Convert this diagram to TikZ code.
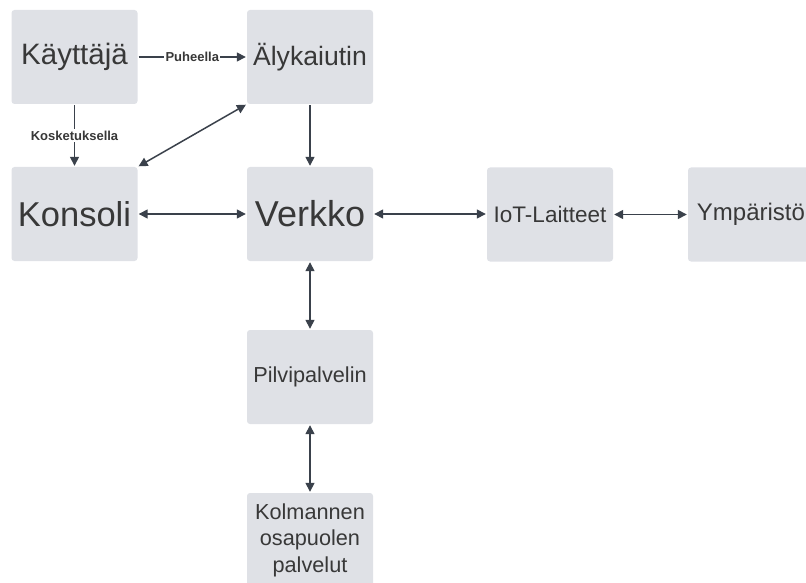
\documentclass[tikz,border=0pt]{standalone}
\usepackage{fontspec}
\setmainfont{Liberation Sans}
\usetikzlibrary{arrows.meta}
\definecolor{boxgray}{HTML}{DFE1E6}
\definecolor{txtgray}{HTML}{383838}
\definecolor{linegray}{HTML}{3A414B}
\tikzset{
  blk/.style={rectangle, fill=boxgray, rounded corners=3pt, minimum width=126pt, minimum height=94pt, inner sep=0pt, text=txtgray, align=center},
  conn/.style={draw=linegray, line width=1.5pt, shorten >=1pt, shorten <=1pt},
  tip/.tip={Triangle[length=9pt,width=9pt]},
  onehead/.style={conn, -tip},
  twohead/.style={conn, tip-tip},
  elabel/.style={fill=white, inner sep=1.5pt, text=txtgray, font=\bfseries\fontsize{13}{15}\selectfont}
}
\begin{document}
\begin{tikzpicture}[x=1pt,y=-1pt]
\useasboundingbox (0,0) rectangle (806,583);
\clip (0,0) rectangle (806,583);
\node[blk, font=\fontsize{29.5}{34}\selectfont] (kay) at (74.5,57) {Käyttäjä};
\node[blk, font=\fontsize{26.6}{31}\selectfont] (aly) at (310,57) {Älykaiutin};
\node[blk, font=\fontsize{34.5}{40}\selectfont] (kon) at (74.5,214) {Konsoli};
\node[blk, font=\fontsize{36}{42}\selectfont] (ver) at (310,214) {Verkko};
\node[blk, font=\fontsize{22.5}{27}\selectfont] (iot) at (550,214.5) {IoT-Laitteet};
\node[blk, font=\fontsize{24}{29}\selectfont] (ymp) at (751,214.5) {Ympäristö};
\node[blk, font=\fontsize{21.7}{26}\selectfont] (pil) at (310,377) {Pilvipalvelin};
\node[blk, font=\fontsize{21.7}{26.5}\selectfont] (kol) at (310,540) {Kolmannen\\osapuolen\\palvelut};

\draw[onehead] (kay.east) -- node[elabel] {Puheella} (aly.west);
\draw[onehead] (kay.south) -- node[elabel] {Kosketuksella} (kon.north);
\draw[twohead] (aly.south west) -- (kon.north east);
\draw[onehead] (aly.south) -- (ver.north);
\draw[twohead] (kon.east) -- (ver.west);
\draw[twohead] (ver.east) -- (ver.east -| iot.west);
\draw[twohead] (iot.east) -- (ymp.west);
\draw[twohead] (ver.south) -- (pil.north);
\draw[twohead] (pil.south) -- (kol.north);
\end{tikzpicture}
\end{document}
